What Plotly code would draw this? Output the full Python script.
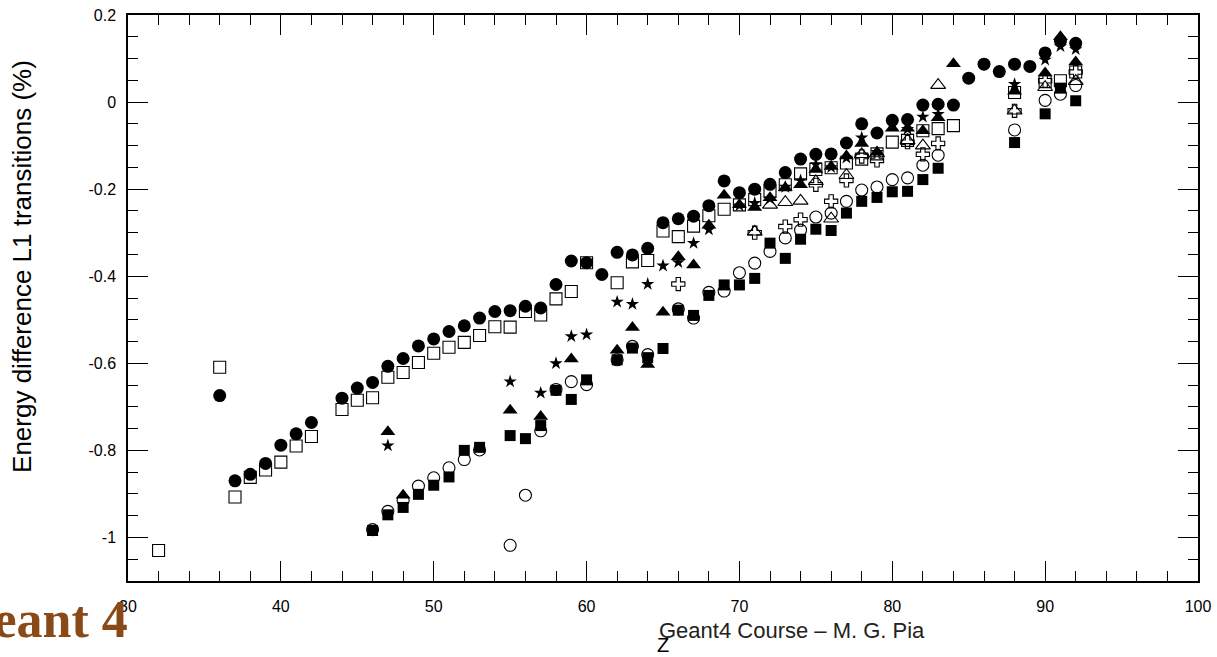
import plotly.graph_objects as go

# ---- data (Z, energy difference in %) ----
fc_x = [36, 37, 38, 39, 40, 41, 42, 44, 45, 46, 47, 48, 49, 50, 51, 52, 53, 54, 55, 56, 57, 58, 59, 60, 61, 62, 63, 64, 65, 66, 67, 68, 69, 70, 71, 72, 73, 74, 75, 76, 77, 78, 79, 80, 81, 82, 83, 84, 85, 86, 87, 88, 89, 90, 91, 92]
fc_y = [-0.674, -0.870, -0.855, -0.830, -0.788, -0.762, -0.736, -0.680, -0.657, -0.644, -0.607, -0.589, -0.560, -0.544, -0.527, -0.514, -0.496, -0.481, -0.479, -0.469, -0.473, -0.419, -0.365, -0.369, -0.396, -0.345, -0.351, -0.336, -0.277, -0.268, -0.262, -0.238, -0.181, -0.208, -0.200, -0.189, -0.162, -0.131, -0.120, -0.119, -0.094, -0.050, -0.071, -0.042, -0.040, -0.007, -0.005, -0.007, 0.055, 0.087, 0.070, 0.087, 0.082, 0.113, 0.140, 0.135]

os_x = [32, 36, 37, 38, 39, 40, 41, 42, 44, 45, 46, 47, 48, 49, 50, 51, 52, 53, 54, 55, 56, 57, 58, 59, 60, 62, 63, 64, 65, 66, 67, 68, 69, 70, 71, 72, 73, 74, 75, 76, 77, 78, 79, 80, 81, 82, 83, 84, 88, 90, 91, 92]
os_y = [-1.030, -0.609, -0.907, -0.862, -0.845, -0.827, -0.790, -0.768, -0.706, -0.685, -0.679, -0.632, -0.621, -0.598, -0.577, -0.563, -0.552, -0.536, -0.516, -0.517, -0.481, -0.489, -0.452, -0.435, -0.369, -0.415, -0.367, -0.364, -0.296, -0.309, -0.285, -0.261, -0.246, -0.236, -0.224, -0.205, -0.190, -0.165, -0.155, -0.151, -0.140, -0.131, -0.119, -0.092, -0.088, -0.066, -0.061, -0.054, 0.022, 0.047, 0.049, 0.069]

ft_x = [47, 48, 55, 57, 59, 62, 63, 64, 65, 66, 67, 68, 69, 70, 71, 72, 73, 74, 75, 76, 77, 78, 79, 80, 81, 82, 83, 84, 88, 90, 91, 92]
ft_y = [-0.757, -0.903, -0.708, -0.722, -0.590, -0.570, -0.518, -0.603, -0.483, -0.355, -0.374, -0.283, -0.214, -0.236, -0.242, -0.220, -0.197, -0.190, -0.155, -0.148, -0.124, -0.095, -0.115, -0.060, -0.060, -0.066, -0.036, 0.088, 0.025, 0.067, 0.150, 0.092]

st_x = [47, 55, 57, 58, 59, 60, 62, 63, 64, 65, 66, 67, 68, 70, 71, 72, 73, 74, 75, 76, 77, 78, 79, 80, 81, 82, 83, 88, 90, 91, 92]
st_y = [-0.789, -0.642, -0.668, -0.600, -0.538, -0.534, -0.459, -0.464, -0.418, -0.376, -0.368, -0.324, -0.293, -0.238, -0.232, -0.222, -0.195, -0.180, -0.143, -0.150, -0.128, -0.082, -0.115, -0.048, -0.062, -0.034, -0.028, 0.041, 0.097, 0.128, 0.121]

ot_x = [71, 72, 73, 74, 75, 76, 77, 78, 79, 81, 82, 83, 88, 90, 92]
ot_y = [-0.298, -0.236, -0.230, -0.227, -0.182, -0.268, -0.168, -0.120, -0.118, -0.088, -0.100, 0.039, -0.020, 0.034, 0.048]

oc_x = [66, 71, 73, 74, 75, 76, 77, 78, 79, 81, 82, 83, 88, 90, 92]
oc_y = [-0.418, -0.300, -0.286, -0.270, -0.190, -0.228, -0.180, -0.125, -0.134, -0.092, -0.120, -0.095, -0.020, 0.049, 0.069]

ci_x = [46, 47, 48, 49, 50, 51, 52, 53, 55, 56, 57, 58, 59, 60, 62, 63, 64, 66, 67, 68, 69, 70, 71, 72, 73, 74, 75, 76, 77, 78, 79, 80, 81, 82, 83, 88, 90, 91, 92]
ci_y = [-0.982, -0.940, -0.915, -0.882, -0.863, -0.840, -0.821, -0.799, -1.018, -0.903, -0.755, -0.660, -0.642, -0.649, -0.592, -0.561, -0.580, -0.475, -0.496, -0.437, -0.434, -0.392, -0.370, -0.343, -0.312, -0.294, -0.264, -0.255, -0.228, -0.202, -0.195, -0.178, -0.174, -0.145, -0.122, -0.064, 0.004, 0.018, 0.038]

fs_x = [46, 47, 48, 49, 50, 51, 52, 53, 55, 56, 57, 58, 59, 60, 62, 63, 64, 65, 66, 67, 68, 69, 70, 71, 72, 73, 74, 75, 76, 77, 78, 79, 80, 81, 82, 83, 88, 90, 91, 92]
fs_y = [-0.984, -0.948, -0.931, -0.901, -0.880, -0.861, -0.800, -0.793, -0.766, -0.773, -0.743, -0.662, -0.683, -0.638, -0.592, -0.565, -0.587, -0.566, -0.478, -0.490, -0.444, -0.420, -0.420, -0.405, -0.324, -0.359, -0.315, -0.292, -0.295, -0.255, -0.228, -0.219, -0.206, -0.205, -0.178, -0.152, -0.093, -0.027, 0.032, 0.003]

y_tickvals = [-1.0, -0.8, -0.6, -0.4, -0.2, 0.0, 0.2]
y_ticktext = ["-1", "-0.8", "-0.6", "-0.4", "-0.2", "0", "0.2"]
x_tickvals = [30, 40, 50, 60, 70, 80, 90, 100]

FONT = "Liberation Sans, Arial, sans-serif"

series = [
    (ci_x, ci_y, "circle-open", 12, 1.1),
    (fs_x, fs_y, "square", 11, 0),
    (oc_x, oc_y, "cross-open", 11, 1.1),
    (ot_x, ot_y, "triangle-up-open", 13, 1.1),
    (st_x, st_y, "star", 10, 0),
    (ft_x, ft_y, "triangle-up", 13, 0),
    (os_x, os_y, "square-open", 12, 1.1),
    (fc_x, fc_y, "circle", 13, 0),
]

fig = go.Figure()
for xs, ys, sym, size, lw in series:
    fig.add_trace(go.Scatter(
        x=xs, y=ys, mode="markers",
        marker=dict(symbol=sym, size=size, color="black", line=dict(color="black", width=lw)),
        showlegend=False, hoverinfo="x+y",
    ))

axis_common = dict(
    showgrid=False, zeroline=False, showline=True, linecolor="black", linewidth=1.5,
    mirror="allticks", ticks="inside", tickcolor="black", tickwidth=1, ticklen=20,
    tickfont=dict(family=FONT, size=16, color="black"), automargin=False,
)

fig.update_xaxes(
    range=[30, 100], tickmode="array", tickvals=x_tickvals,
    ticktext=[str(v) for v in x_tickvals],
    minor=dict(ticks="inside", dtick=2, tick0=30, ticklen=10, tickcolor="black", tickwidth=1, showgrid=False),
    ticklabelstandoff=10,
    **axis_common,
)
fig.update_yaxes(
    range=[-1.1, 0.2], tickmode="array", tickvals=y_tickvals, ticktext=y_ticktext,
    minor=dict(ticks="inside", dtick=0.05, tick0=0, ticklen=10, tickcolor="black", tickwidth=1, showgrid=False),
    ticklabelstandoff=7,
    **axis_common,
)

fig.update_layout(
    width=1217, height=657,
    margin=dict(l=128, r=19, t=15, b=76),
    paper_bgcolor="white", plot_bgcolor="white",
    font=dict(family=FONT, color="black"),
    annotations=[
        dict(text="Energy difference L1 transitions (%)", xref="paper", yref="paper",
             x=-0.099, y=0.555, xanchor="center", yanchor="middle", textangle=-90,
             showarrow=False, font=dict(family=FONT, size=26, color="black")),
        dict(text="Z", xref="paper", yref="paper", x=0.5, y=-0.113,
             xanchor="center", yanchor="middle", showarrow=False,
             font=dict(family=FONT, size=20, color="black")),
        dict(text="<b>Geant 4</b>", xref="paper", yref="paper", x=0.002, y=-0.068,
             xanchor="right", yanchor="middle", showarrow=False,
             font=dict(family="Liberation Serif, Times New Roman, serif", size=52, color="#8a4a18")),
        dict(text="Geant4 Course \u2013 M. G. Pia", xref="paper", yref="paper", x=0.494, y=-0.087,
             xanchor="left", yanchor="middle", showarrow=False,
             font=dict(family=FONT, size=22, color="#222222")),
    ],
)

fig.write_html(
    "out.html",
    config={"displayModeBar": False},
    post_script="document.body.style.margin='0';document.body.style.overflow='hidden';",
)
